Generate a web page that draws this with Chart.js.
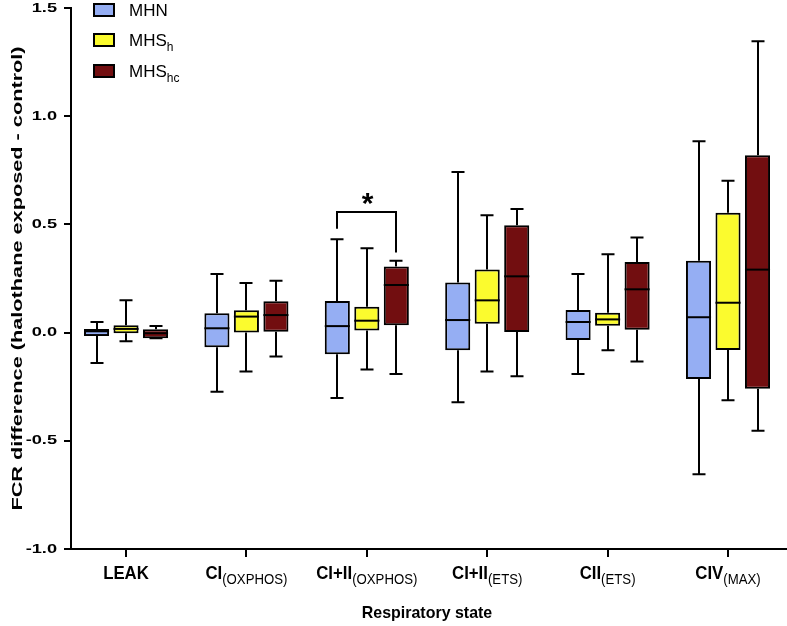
<!DOCTYPE html>
<html lang="en">
<head>
  <meta charset="UTF-8">
  <title>FCR difference by respiratory state</title>
  <script src="https://cdn.jsdelivr.net/npm/chart.js"></script>
  <style>
    html, body { margin: 0; padding: 0; background: #fff; }
    #wrap { width: 787px; height: 626px; position: relative; }
  </style>
</head>
<body>
  <div id="wrap"><canvas id="fcr-chart"></canvas></div>
  <script>
    // respiratory states (main label + subscript)
    const stateNames = ['LEAK', 'CI', 'CI+II', 'CI+II', 'CII', 'CIV'];
    const stateSubs = ['', '(OXPHOS)', '(OXPHOS)', '(ETS)', '(ETS)', '(MAX)'];

    // box stats per state: [min, q1, median, q3, max]
    const mhn = [
      [-0.140, -0.016, 0.006, 0.017, 0.049],
      [-0.273, -0.068, 0.020, 0.089, 0.271],
      [-0.302, -0.100, 0.030, 0.146, 0.431],
      [-0.322, -0.082, 0.058, 0.232, 0.742],
      [-0.191, -0.034, 0.049, 0.104, 0.271],
      [-0.655, -0.214, 0.071, 0.332, 0.884]
    ];
    const mhsH = [
      [-0.040, -0.003, 0.017, 0.034, 0.149],
      [-0.180, 0.001, 0.074, 0.103, 0.229],
      [-0.171, 0.010, 0.055, 0.120, 0.390],
      [-0.180, 0.041, 0.149, 0.292, 0.542],
      [-0.082, 0.032, 0.061, 0.092, 0.362],
      [-0.313, -0.080, 0.138, 0.554, 0.702]
    ];
    const mhsHc = [
      [-0.026, -0.026, -0.003, 0.015, 0.030],
      [-0.111, 0.004, 0.081, 0.145, 0.240],
      [-0.191, 0.034, 0.220, 0.305, 0.332],
      [-0.202, 0.003, 0.260, 0.496, 0.571],
      [-0.133, 0.013, 0.200, 0.326, 0.440],
      [-0.453, -0.259, 0.291, 0.819, 1.346]
    ];

    const yTicks = [-1.0, -0.5, 0.0, 0.5, 1.0, 1.5];

    // significance bracket: state index, from series, to series, level, leg ends
    const sigState = 2;
    const sigSeries = [0, 2];
    const sigLevel = 0.557;
    const sigLegEnds = [0.48, 0.37];

    const seriesNames = ['MHN', 'MHS', 'MHS'];
    const seriesSubs = ['', 'h', 'hc'];
    const seriesColors = ['#95aef3', '#fbfb2e', '#720e10'];
    const seriesStats = [mhn, mhsH, mhsHc];

    const FONT = '"Liberation Sans", Arial, sans-serif';
    const capW = 13;

    function drawText(ctx, str, x, y, font, sx, sy, align, base) {
      ctx.save();
      ctx.translate(x, y);
      ctx.scale(sx, sy);
      ctx.font = font;
      ctx.textAlign = align || 'left';
      ctx.textBaseline = base || 'alphabetic';
      ctx.fillText(str, 0, 0);
      ctx.restore();
    }

    const boxPlot = {
      id: 'boxPlot',
      beforeDatasetsDraw(chart) {
        // whiskers + caps, under the boxes
        const ctx = chart.ctx, ys = chart.scales.y;
        ctx.save();
        ctx.strokeStyle = '#000';
        ctx.lineWidth = 2;
        seriesStats.forEach((stats, d) => {
          chart.getDatasetMeta(d).data.forEach((bar, i) => {
            const s = stats[i];
            const x = Math.round(bar.x);
            const pMin = ys.getPixelForValue(s[0]), pQ1 = ys.getPixelForValue(s[1]);
            const pQ3 = ys.getPixelForValue(s[3]), pMax = ys.getPixelForValue(s[4]);
            ctx.beginPath();
            ctx.moveTo(x, pQ3); ctx.lineTo(x, pMax);
            ctx.moveTo(x - capW / 2, pMax); ctx.lineTo(x + capW / 2, pMax);
            ctx.moveTo(x, pQ1); ctx.lineTo(x, pMin);
            ctx.moveTo(x - capW / 2, pMin); ctx.lineTo(x + capW / 2, pMin);
            ctx.stroke();
          });
        });
        ctx.restore();
      },
      afterDatasetsDraw(chart) {
        // median lines
        const ctx = chart.ctx, ys = chart.scales.y;
        ctx.save();
        ctx.strokeStyle = '#000';
        ctx.lineWidth = 2;
        seriesStats.forEach((stats, d) => {
          chart.getDatasetMeta(d).data.forEach((bar, i) => {
            const py = ys.getPixelForValue(stats[i][2]);
            ctx.beginPath();
            ctx.moveTo(bar.x - bar.width / 2, py);
            ctx.lineTo(bar.x + bar.width / 2, py);
            ctx.stroke();
          });
        });
        ctx.restore();
      },
      afterDraw(chart) {
        const ctx = chart.ctx, ys = chart.scales.y, xs = chart.scales.x;
        ctx.save();
        ctx.fillStyle = '#000';

        // y tick labels
        yTicks.forEach(v => {
          drawText(ctx, v.toFixed(1), 57, ys.getPixelForValue(v), 'bold 13px ' + FONT, 1.4, 1, 'right', 'middle');
        });

        // x tick labels with subscripts
        stateNames.forEach((name, i) => {
          const cx = xs.getPixelForValue(i);
          ctx.font = 'bold 14px ' + FONT;
          const w1 = ctx.measureText(name).width;
          ctx.font = '11px ' + FONT;
          const w2 = ctx.measureText(stateSubs[i]).width;
          const sx = 1.2;
          const left = cx - (w1 + w2) * sx / 2;
          drawText(ctx, name, left, 579, 'bold 14px ' + FONT, sx, 1.25);
          if (stateSubs[i]) drawText(ctx, stateSubs[i], left + w1 * sx, 584, '11px ' + FONT, sx, 1.25);
        });

        // axis titles
        drawText(ctx, 'Respiratory state', (chart.chartArea.left + chart.chartArea.right) / 2 - 2, 618,
          'bold 14px ' + FONT, 1.14, 1.2, 'center');
        ctx.save();
        ctx.translate(22, (chart.chartArea.top + chart.chartArea.bottom) / 2);
        ctx.rotate(-Math.PI / 2);
        drawText(ctx, 'FCR difference (halothane exposed - control)', 0, 0, 'bold 14px ' + FONT, 1.55, 1.05, 'center');
        ctx.restore();

        // significance bracket
        const m0 = chart.getDatasetMeta(sigSeries[0]).data[sigState];
        const m1 = chart.getDatasetMeta(sigSeries[1]).data[sigState];
        const x0 = Math.round(m0.x), x1 = Math.round(m1.x);
        const pTop = Math.round(ys.getPixelForValue(sigLevel));
        ctx.strokeStyle = '#000';
        ctx.lineWidth = 2;
        ctx.beginPath();
        ctx.moveTo(x0, ys.getPixelForValue(sigLegEnds[0]));
        ctx.lineTo(x0, pTop);
        ctx.lineTo(x1, pTop);
        ctx.lineTo(x1, ys.getPixelForValue(sigLegEnds[1]));
        ctx.stroke();
        ctx.font = 'bold 30px ' + FONT;
        ctx.textAlign = 'center';
        ctx.textBaseline = 'alphabetic';
        const mt = ctx.measureText('*');
        const starMid = (mt.actualBoundingBoxAscent - mt.actualBoundingBoxDescent) / 2;
        ctx.fillText('*', (x0 + x1) / 2 + 1, pTop - 13 + starMid);

        // legend
        const rows = [10, 40, 71];
        seriesNames.forEach((name, d) => {
          const cy = rows[d];
          ctx.fillStyle = seriesColors[d];
          ctx.fillRect(94, cy - 6, 20, 12);
          ctx.strokeStyle = '#000';
          ctx.lineWidth = 2;
          ctx.strokeRect(94, cy - 6, 20, 12);
          ctx.fillStyle = '#000';
          ctx.font = '17px ' + FONT;
          ctx.textAlign = 'left';
          ctx.fillText(name, 129, cy + 6);
          const w = ctx.measureText(name).width;
          if (seriesSubs[d]) {
            ctx.font = '12px ' + FONT;
            ctx.fillText(seriesSubs[d], 129 + w, cy + 11);
          }
        });
        ctx.restore();
      }
    };

    const datasets = seriesStats.map((stats, d) => ({
      label: seriesNames[d] + seriesSubs[d],
      data: stats.map((s, i) => ({ x: i, y: [s[1], s[3]] })),
      backgroundColor: seriesColors[d],
      borderColor: '#000',
      borderWidth: 2,
      borderSkipped: false,
      categoryPercentage: 0.735,
      barPercentage: 0.85
    }));

    new Chart(document.getElementById('fcr-chart'), {
      type: 'bar',
      data: { datasets },
      options: {
        responsive: true,
        maintainAspectRatio: false,
        animation: false,
        devicePixelRatio: 1,
        layout: { padding: { top: 8, right: 0, bottom: 0, left: 0 } },
        plugins: { legend: { display: false }, tooltip: { enabled: false } },
        scales: {
          x: {
            type: 'linear',
            offset: false,
            min: -0.457,
            max: 5.49,
            afterBuildTicks: scale => { scale.ticks = stateNames.map((_, i) => ({ value: i })); },
            afterFit: scale => { scale.height = 77; },
            ticks: { display: false },
            grid: { display: true, offset: false, drawOnChartArea: false, drawTicks: true, tickLength: 8, color: '#000', lineWidth: 2 },
            border: { display: true, color: '#000', width: 2 }
          },
          y: {
            min: -1.0,
            max: 1.5,
            afterBuildTicks: scale => { scale.ticks = yTicks.map(v => ({ value: v })); },
            afterFit: scale => { scale.width = 71; },
            ticks: { display: false },
            grid: { display: true, drawOnChartArea: false, drawTicks: true, tickLength: 7, color: '#000', lineWidth: 2 },
            border: { display: true, color: '#000', width: 2 }
          }
        }
      },
      plugins: [boxPlot]
    });
  </script>
</body>
</html>
